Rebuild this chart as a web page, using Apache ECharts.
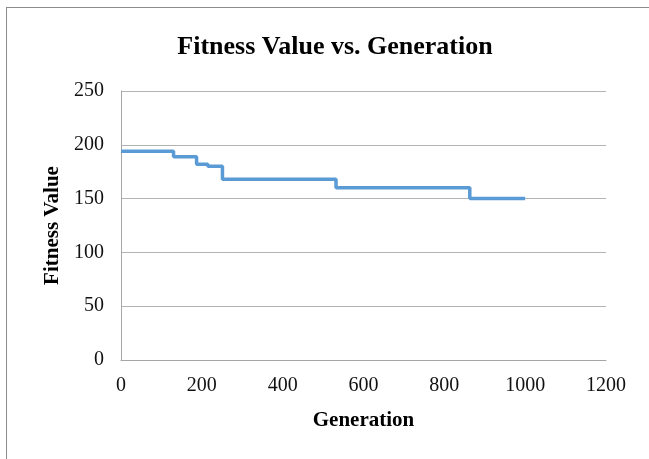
<!DOCTYPE html>
<html><head><meta charset="utf-8">
<script src="https://cdn.jsdelivr.net/npm/echarts@6/dist/echarts.min.js"></script>
<style>
html,body{margin:0;padding:0;background:#fff;}
#c{width:649px;height:459px;position:absolute;left:0;top:0;}
#frame{position:absolute;left:6px;top:7px;width:643px;height:452px;border-left:1px solid #8c8c8c;border-top:1px solid #8c8c8c;pointer-events:none;}
</style></head>
<body>
<div id="c"></div>
<div id="frame"></div>
<script>
var generations = [0, 130, 187, 215, 251, 532, 863, 1000];
var fitness = [194, 189, 182, 180, 168, 160, 150, 150];
var xTicks = [0, 200, 400, 600, 800, 1000, 1200];
var yTicks = [0, 50, 100, 150, 200, 250];

var data = generations.map(function (g, i) { return [g, fitness[i]]; });
var chart = echarts.init(document.getElementById('c'));
var font = 'Liberation Serif';
chart.setOption({
  animation: false,
  title: {
    text: 'Fitness Value vs. Generation',
    left: 330, top: 29, textAlign: 'center',
    textStyle: { fontFamily: font, fontSize: 26, fontWeight: 'bold', color: '#000' }
  },
  grid: { left: 121, right: 43, top: 91, bottom: 99 },
  xAxis: {
    type: 'value', min: xTicks[0], max: xTicks[xTicks.length - 1], interval: 200,
    name: 'Generation', nameLocation: 'middle', nameGap: 50,
    nameTextStyle: { fontFamily: font, fontSize: 21, fontWeight: 'bold', color: '#000' },
    axisLine: { show: true, lineStyle: { color: '#a6a6a6', width: 1 } },
    axisTick: { show: false },
    splitLine: { show: false },
    axisLabel: { fontFamily: font, fontSize: 20, color: '#111', margin: 16,
      formatter: function (v) { return String(v); } }
  },
  yAxis: {
    type: 'value', min: yTicks[0], max: yTicks[yTicks.length - 1], interval: 50,
    name: 'Fitness Value', nameLocation: 'middle', nameGap: 52,
    nameTextStyle: { fontFamily: font, fontSize: 21, fontWeight: 'bold', color: '#000' },
    axisLine: { show: true, lineStyle: { color: '#a6a6a6', width: 1 } },
    axisTick: { show: false },
    splitLine: { show: true, lineStyle: { color: '#b3b3b3', width: 1 } },
    axisLabel: { fontFamily: font, fontSize: 20, color: '#111', margin: 17 }
  },
  series: [{
    type: 'line', step: 'end', data: data, showSymbol: false,
    lineStyle: { color: '#5b9bd5', width: 3.5 }
  }]
});
</script>
</body></html>
